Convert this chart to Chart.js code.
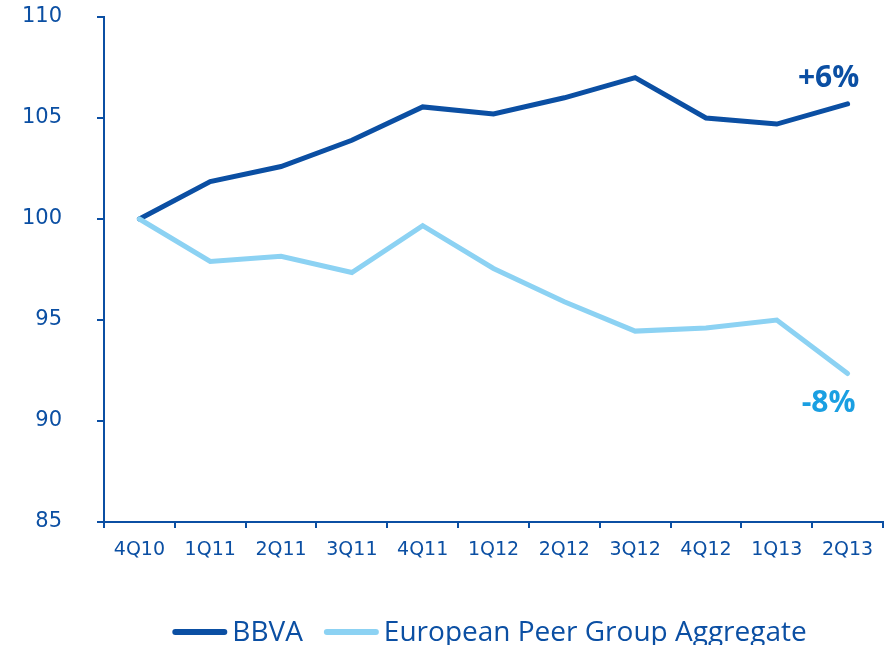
<!DOCTYPE html>
<html>
<head>
<meta charset="utf-8">
<script src="https://cdn.jsdelivr.net/npm/chart.js@4.4.1/dist/chart.umd.min.js"></script>
<style>
  html, body { margin: 0; padding: 0; background: #ffffff; }
  #wrap { width: 887px; height: 645px; position: relative; }
</style>
</head>
<body>
<div id="wrap"><canvas id="c"></canvas></div>
<script>
// ---- data ----
const categories = ['4Q10','1Q11','2Q11','3Q11','4Q11','1Q12','2Q12','3Q12','4Q12','1Q13','2Q13'];
const bbvaValues = [100, 101.85, 102.6, 103.9, 105.55, 105.2, 106.0, 107.0, 105.0, 104.7, 105.7];
const peerValues = [100, 97.9, 98.15, 97.35, 99.67, 97.55, 95.9, 94.45, 94.6, 95.0, 92.35];
const seriesNames = ['BBVA', 'European Peer Group Aggregate'];
const endLabels = ['+6%', '-8%'];
const yTicks = [85, 90, 95, 100, 105, 110];

const DARK = '#0B4FA3';
const LIGHT = '#8CD2F3';
const LABEL_LIGHT = '#1A9FE2';

const endLabelPlugin = {
  id: 'endLabels',
  afterDatasetsDraw(chart) {
    const ctx = chart.ctx;
    ctx.save();
    ctx.font = 'bold 30px "Open Sans"';
    ctx.textAlign = 'center';
    ctx.textBaseline = 'alphabetic';
    chart.data.datasets.forEach((ds, i) => {
      const meta = chart.getDatasetMeta(i);
      const pt = meta.data[meta.data.length - 1];
      if (!pt) return;
      ctx.fillStyle = ds.endLabelColor;
      const dy = ds.endLabelAbove ? -17 : 38;
      ctx.fillText(ds.endLabel, pt.x - 19, pt.y + dy);
    });
    ctx.restore();
  }
};

const legendPlugin = {
  id: 'customLegend',
  afterDraw(chart) {
    const ctx = chart.ctx;
    ctx.save();
    ctx.font = '28px "Open Sans"';
    const sample = 55, gapText = 5, gapItem = 21;
    const order = [0, 1];
    let total = 0;
    order.forEach((i, k) => {
      total += sample + gapText + ctx.measureText(chart.data.datasets[i].label).width;
      if (k < order.length - 1) total += gapItem;
    });
    const ca = chart.chartArea;
    let x = (ca.left + ca.right) / 2 - 4 - total / 2;
    const y = 632;
    order.forEach((i) => {
      const ds = chart.data.datasets[i];
      ctx.strokeStyle = ds.borderColor;
      ctx.lineWidth = 6;
      ctx.lineCap = 'round';
      ctx.beginPath();
      ctx.moveTo(x + 3, y);
      ctx.lineTo(x + sample - 3, y);
      ctx.stroke();
      x += sample + gapText;
      ctx.fillStyle = DARK;
      ctx.textBaseline = 'alphabetic';
      ctx.textAlign = 'left';
      ctx.fillText(ds.label, x, 641);
      x += ctx.measureText(ds.label).width + gapItem;
    });
    ctx.restore();
  }
};

new Chart(document.getElementById('c'), {
  type: 'line',
  data: {
    labels: categories,
    datasets: [
      {
        label: seriesNames[0],
        data: bbvaValues,
        borderColor: DARK,
        backgroundColor: DARK,
        borderWidth: 5,
        pointRadius: 0,
        tension: 0,
        borderJoinStyle: 'miter',
        borderCapStyle: 'round',
        order: 1,
        endLabel: endLabels[0],
        endLabelColor: DARK,
        endLabelAbove: true
      },
      {
        label: seriesNames[1],
        data: peerValues,
        borderColor: LIGHT,
        backgroundColor: LIGHT,
        borderWidth: 5,
        pointRadius: 0,
        tension: 0,
        borderJoinStyle: 'miter',
        borderCapStyle: 'round',
        order: 0,
        endLabel: endLabels[1],
        endLabelColor: LABEL_LIGHT,
        endLabelAbove: false
      }
    ]
  },
  options: {
    responsive: true,
    maintainAspectRatio: false,
    animation: false,
    layout: { padding: { top: 17, right: 4, left: 0, bottom: 0 } },
    plugins: {
      legend: { display: false },
      tooltip: { enabled: false }
    },
    scales: {
      x: {
        offset: true,
        grid: {
          offset: true,
          drawOnChartArea: false,
          drawTicks: true,
          tickLength: 6,
          color: DARK,
          lineWidth: 2
        },
        border: { display: true, color: DARK, width: 2 },
        ticks: {
          color: DARK,
          font: { family: '"DejaVu Sans"', size: 19 },
          padding: 11,
          maxRotation: 0,
          autoSkip: false
        },
        afterFit(s) { s.height = 123; s.paddingLeft = 0; s.paddingRight = 0; }
      },
      y: {
        min: 85,
        max: 110,
        afterBuildTicks(s) { s.ticks = yTicks.map(v => ({ value: v })); },
        grid: {
          drawOnChartArea: false,
          drawTicks: true,
          tickLength: 7,
          color: DARK,
          lineWidth: 2
        },
        border: { display: true, color: DARK, width: 2 },
        ticks: {
          color: DARK,
          font: { family: '"DejaVu Sans"', size: 21 },
          padding: 35
        },
        afterFit(s) { s.width = 104; s.paddingTop = 0; s.paddingBottom = 0; }
      }
    }
  },
  plugins: [endLabelPlugin, legendPlugin]
});
</script>
</body>
</html>
